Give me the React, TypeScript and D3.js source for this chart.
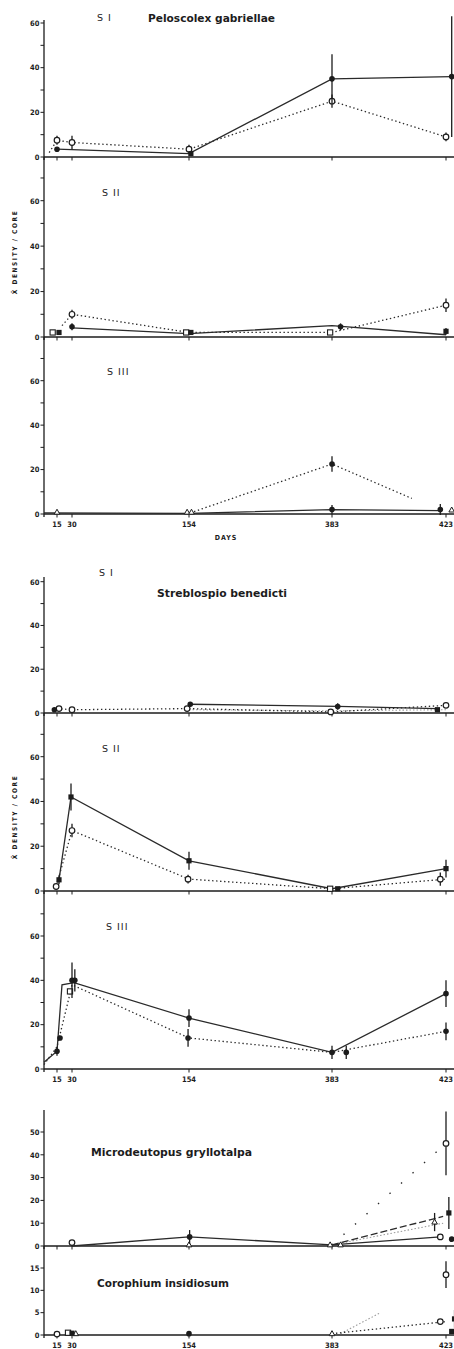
import React from 'react';
import * as d3 from 'd3';

type Pt = [number, number];
type Mk = [number, number, number];

// ---- axis data ----
const dayBreaks = [0, 15, 30, 154, 383, 423];
const dayTicks = [15, 30, 154, 383, 423];
const dayTickLabels = ['15', '30', '154', '383', '423'];

// ---- Peloscolex gabriellae, S I ----
const pgS1Solid: Pt[] = [[15, 3.5], [154, 1.5], [383, 35], [425, 36]];
const pgS1Dotted: Pt[] = [[6, 2], [15, 7.5], [30, 6.5], [154, 3.5], [383, 25], [423, 9]];
const pgS1FilledC: Mk[] = [[15, 3.5, 0], [383, 35, 11], [425, 36, 27]];
const pgS1FilledS: Mk[] = [[157, 1.5, 0]];
const pgS1OpenC: Mk[] = [[15, 7.5, 2], [30, 6.5, 3], [154, 3.5, 2], [383, 25, 3], [423, 9, 2]];

// ---- Peloscolex gabriellae, S II ----
const pgS2Solid: Pt[] = [[30, 4], [154, 1.5], [383, 5], [423, 1]];
const pgS2Dotted: Pt[] = [[20, 5], [30, 10], [154, 2], [383, 2], [423, 14]];
const pgS2FilledC: Mk[] = [[30, 4.5, 1.5], [386, 4.5, 1.5]];
const pgS2FilledS: Mk[] = [[17, 2, 0], [157, 2, 0], [423, 2.5, 1.5]];
const pgS2OpenS: Mk[] = [[10, 2, 0], [151, 2, 0], [380, 2, 0]];
const pgS2OpenC: Mk[] = [[30, 10, 2], [423, 14, 3]];

// ---- Peloscolex gabriellae, S III ----
const pgS3Dotted: Pt[] = [[156, 0.5], [383, 22.5], [411, 7]];
const pgS3Solid: Pt[] = [[0, 0.5], [154, 0.3], [383, 2], [421, 1.5]];
const pgS3FilledC: Mk[] = [[383, 22.5, 3.5], [383, 2, 2], [421, 2, 2.5]];
const pgS3Tri: Mk[] = [[15, 0.8, 0], [152, 0.8, 0], [158, 0.8, 0], [425, 1.8, 0]];

// ---- Streblospio benedicti, S I ----
const sbS1Solid: Pt[] = [[156, 4], [385, 3], [420, 2]];
const sbS1Dashed: Pt[] = [[154, 1.5], [383, 1], [423, 1.5]];
const sbS1Dotted: Pt[] = [[15, 2], [30, 1.5], [154, 2], [383, 0.5], [423, 3.5]];
const sbS1FilledC: Mk[] = [[12, 1.5, 0], [156, 4, 1], [385, 3, 1.5]];
const sbS1OpenC: Mk[] = [[17, 2, 0], [30, 1.5, 0], [152, 2, 0], [381, 0.5, 1], [423, 3.5, 0]];
const sbS1FilledS: Mk[] = [[420, 1.5, 0]];

// ---- Streblospio benedicti, S II ----
const sbS2Solid: Pt[] = [[17, 5], [29, 42], [154, 13.5], [383, 1], [423, 10]];
const sbS2Dotted: Pt[] = [[14, 2], [30, 27], [154, 5.3], [383, 1], [423, 5.3]];
const sbS2FilledS: Mk[] = [[17, 5, 2], [29, 42, 6], [154, 13.5, 4], [385, 1, 0], [423, 10, 4]];
const sbS2OpenC: Mk[] = [[14, 2, 1], [30, 27, 3], [153, 5.3, 2], [421, 5.3, 3]];
const sbS2OpenS: Mk[] = [[380, 1, 0]];

// ---- Streblospio benedicti, S III ----
const sbS3Solid: Pt[] = [[0, 3], [15, 8], [20, 38], [32, 39], [154, 23], [383, 7.5], [423, 34]];
const sbS3Dotted: Pt[] = [[0, 2], [15, 10], [28, 34], [30, 38], [154, 14], [383, 7.5], [423, 17]];
const sbS3FilledC: Mk[] = [[15, 8, 2], [18, 14, 0], [30, 40, 8], [33, 40, 5], [154, 23, 4], [153, 14, 4], [383, 7.5, 3], [388, 7.5, 3], [423, 34, 6], [423, 17, 4]];
const sbS3OpenS: Mk[] = [[28, 35, 0]];

// ---- Microdeutopus gryllotalpa ----
const mgSolid: Pt[] = [[30, 0], [154, 4], [383, 0.5], [421, 4]];
const mgDashed: Pt[] = [[383, 0.5], [422, 13]];
const mgDotted: Pt[] = [[383, 0.5], [423, 45]];
const mgGrayDotted: Pt[] = [[383, 0.5], [422, 10]];
const mgOpenC: Mk[] = [[30, 1.5, 0], [423, 45, 14], [421, 4, 0]];
const mgFilledS: Mk[] = [[424, 14.5, 7]];
const mgFilledC: Mk[] = [[155, 4, 3], [425, 3, 1]];
const mgTri: Mk[] = [[154, 0.5, 0], [380, 0.5, 0], [386, 0.5, 0], [419, 10.5, 4]];

// ---- Corophium insidiosum ----
const ciDotted: Pt[] = [[383, 0.3], [423, 3]];
const ciGrayDotted: Pt[] = [[386, 0.3], [400, 5]];
const ciOpenC: Mk[] = [[15, 0.2, 0], [423, 13.5, 3], [421, 3, 0]];
const ciFilledS: Mk[] = [[426, 3.6, 2], [425, 0.8, 0], [30, 0.4, 0]];
const ciOpenS: Mk[] = [[26, 0.5, 0]];
const ciFilledC: Mk[] = [[154, 0.3, 0]];
const ciTri: Mk[] = [[34, 0.3, 0], [383, 0.3, 0]];

const INK = '#1c1c1c';
const NUMFONT = '"DejaVu Sans Condensed", "DejaVu Sans", sans-serif';

type LineKind = 'solid' | 'dotted' | 'dashed' | 'gray' | 'sparse';
type Shape = 'fc' | 'oc' | 'fs' | 'os' | 'tri';

interface Panel {
  y0: number; yRef: number; refVal: number; axisTop: number;
  ticks: number[]; labels: number[];
  tag?: string; tagX?: number; tagY?: number;
  title?: string; titleX?: number; titleY?: number; titleW?: number;
  xLabels?: boolean;
  lines: { d: Pt[]; k: LineKind }[];
  marks: { d: Mk[]; s: Shape }[];
}

const t10 = (max: number) => d3.range(0, max + 1, 10);

const panels: Panel[] = [
  { y0: 157, yRef: 23, refVal: 60, axisTop: 20, ticks: t10(60), labels: [0, 20, 40, 60],
    tag: 'S I', tagX: 97, tagY: 21, title: 'Peloscolex gabriellae', titleX: 148, titleY: 22, titleW: 127,
    lines: [{ d: pgS1Solid, k: 'solid' }, { d: pgS1Dotted, k: 'dotted' }],
    marks: [{ d: pgS1OpenC, s: 'oc' }, { d: pgS1FilledS, s: 'fs' }, { d: pgS1FilledC, s: 'fc' }] },
  { y0: 337, yRef: 200.7, refVal: 60, axisTop: 157, ticks: t10(70), labels: [0, 20, 40, 60],
    tag: 'S II', tagX: 102, tagY: 196,
    lines: [{ d: pgS2Solid, k: 'solid' }, { d: pgS2Dotted, k: 'dotted' }],
    marks: [{ d: pgS2OpenS, s: 'os' }, { d: pgS2FilledS, s: 'fs' }, { d: pgS2OpenC, s: 'oc' }, { d: pgS2FilledC, s: 'fc' }] },
  { y0: 514, yRef: 380.7, refVal: 60, axisTop: 337, ticks: t10(70), labels: [0, 20, 40, 60],
    tag: 'S III', tagX: 107, tagY: 375, xLabels: true,
    lines: [{ d: pgS3Solid, k: 'solid' }, { d: pgS3Dotted, k: 'dotted' }],
    marks: [{ d: pgS3Tri, s: 'tri' }, { d: pgS3FilledC, s: 'fc' }] },
  { y0: 713, yRef: 581.7, refVal: 60, axisTop: 577, ticks: t10(60), labels: [0, 20, 40, 60],
    tag: 'S I', tagX: 99, tagY: 576, title: 'Streblospio benedicti', titleX: 157, titleY: 597, titleW: 130,
    lines: [{ d: sbS1Dashed, k: 'gray' }, { d: sbS1Solid, k: 'solid' }, { d: sbS1Dotted, k: 'dotted' }],
    marks: [{ d: sbS1OpenC, s: 'oc' }, { d: sbS1FilledS, s: 'fs' }, { d: sbS1FilledC, s: 'fc' }] },
  { y0: 891, yRef: 756.7, refVal: 60, axisTop: 713, ticks: t10(70), labels: [0, 20, 40, 60],
    tag: 'S II', tagX: 102, tagY: 752,
    lines: [{ d: sbS2Solid, k: 'solid' }, { d: sbS2Dotted, k: 'dotted' }],
    marks: [{ d: sbS2OpenS, s: 'os' }, { d: sbS2OpenC, s: 'oc' }, { d: sbS2FilledS, s: 'fs' }] },
  { y0: 1069, yRef: 936, refVal: 60, axisTop: 891, ticks: t10(70), labels: [0, 20, 40, 60],
    tag: 'S III', tagX: 106, tagY: 930, xLabels: true,
    lines: [{ d: sbS3Solid, k: 'solid' }, { d: sbS3Dotted, k: 'dotted' }],
    marks: [{ d: sbS3OpenS, s: 'os' }, { d: sbS3FilledC, s: 'fc' }] },
  { y0: 1246, yRef: 1132, refVal: 50, axisTop: 1110, ticks: t10(50), labels: [0, 10, 20, 30, 40, 50],
    title: 'Microdeutopus gryllotalpa', titleX: 91, titleY: 1156, titleW: 161,
    lines: [{ d: mgGrayDotted, k: 'gray' }, { d: mgSolid, k: 'solid' }, { d: mgDashed, k: 'dashed' }, { d: mgDotted, k: 'sparse' }],
    marks: [{ d: mgTri, s: 'tri' }, { d: mgOpenC, s: 'oc' }, { d: mgFilledS, s: 'fs' }, { d: mgFilledC, s: 'fc' }] },
  { y0: 1335, yRef: 1268, refVal: 15, axisTop: 1246, ticks: [0, 5, 10, 15], labels: [0, 5, 10, 15],
    title: 'Corophium insidiosum', titleX: 97, titleY: 1287, titleW: 132, xLabels: true,
    lines: [{ d: ciGrayDotted, k: 'gray' }, { d: ciDotted, k: 'dotted' }],
    marks: [{ d: ciTri, s: 'tri' }, { d: ciOpenS, s: 'os' }, { d: ciOpenC, s: 'oc' }, { d: ciFilledS, s: 'fs' }, { d: ciFilledC, s: 'fc' }] },
];

const x = d3.scaleLinear().domain(dayBreaks).range([44, 57, 72, 189, 332, 446]);

function lineStyle(k: LineKind) {
  if (k === 'dotted') return { stroke: '#2a2a2a', strokeWidth: 1.3, strokeDasharray: '1.4 2.6' };
  if (k === 'sparse') return { stroke: '#2a2a2a', strokeWidth: 1.4, strokeDasharray: '1.4 14' };
  if (k === 'dashed') return { stroke: '#2a2a2a', strokeWidth: 1.3, strokeDasharray: '7 3' };
  if (k === 'gray') return { stroke: '#9a9a9a', strokeWidth: 1.1, strokeDasharray: '1.5 2' };
  return { stroke: '#2a2a2a', strokeWidth: 1.3 };
}

function Marker({ s, cx, cy }: { s: Shape; cx: number; cy: number }) {
  const r = 2.8;
  if (s === 'fc') return <circle cx={cx} cy={cy} r={r} fill={INK} />;
  if (s === 'oc') return <circle cx={cx} cy={cy} r={r} fill="#fff" stroke={INK} strokeWidth={1.2} />;
  if (s === 'fs') return <rect x={cx - 2.6} y={cy - 2.6} width={5.2} height={5.2} fill={INK} />;
  if (s === 'os') return <rect x={cx - 2.6} y={cy - 2.6} width={5.2} height={5.2} fill="#fff" stroke={INK} strokeWidth={1.1} />;
  return <path d={`M${cx},${cy - 3}L${cx + 2.8},${cy + 2}L${cx - 2.8},${cy + 2}Z`} fill="#fff" stroke={INK} strokeWidth={1} />;
}

function PanelG({ p }: { p: Panel }) {
  const y = d3.scaleLinear().domain([0, p.refVal]).range([p.y0, p.yRef]);
  const gen = d3.line<Pt>().x(d => x(d[0])).y(d => y(d[1]));
  return (
    <g>
      <line x1={44} x2={44} y1={p.axisTop} y2={p.y0 + 3} stroke={INK} strokeWidth={1.3} />
      {p.ticks.map(t => (
        <line key={'t' + t} x1={40.5} x2={44} y1={y(t)} y2={y(t)} stroke={INK} strokeWidth={1} />
      ))}
      {p.labels.map(t => (
        <text key={'l' + t} x={39.5} y={y(t) + 2.8} textAnchor="end" fontFamily={NUMFONT}
          fontWeight="bold" fontSize={7.5} fill={INK}>{t}</text>
      ))}
      <line x1={44} x2={454} y1={p.y0} y2={p.y0} stroke={INK} strokeWidth={1.4} />
      {dayTicks.map(d => (
        <line key={'xt' + d} x1={x(d)} x2={x(d)} y1={p.y0} y2={p.y0 + 3.5} stroke={INK} strokeWidth={1} />
      ))}
      {p.xLabels && dayTicks.map((d, i) => (
        <text key={'xl' + d} x={x(d)} y={p.y0 + 13} textAnchor="middle" fontFamily={NUMFONT}
          fontWeight="bold" fontSize={7.5} fill={INK}>{dayTickLabels[i]}</text>
      ))}
      {p.lines.map((l, i) => (
        <path key={'ln' + i} d={gen(l.d) || ''} fill="none" {...lineStyle(l.k)} />
      ))}
      {p.marks.map((m, i) => (
        <g key={'mk' + i}>
          {m.d.filter(v => v[2] > 0).map((v, j) => (
            <line key={'e' + j} x1={x(v[0])} x2={x(v[0])} y1={y(v[1] - v[2])} y2={y(v[1] + v[2])}
              stroke={INK} strokeWidth={1.3} />
          ))}
          {m.d.map((v, j) => <Marker key={'m' + j} s={m.s} cx={x(v[0])} cy={y(v[1])} />)}
        </g>
      ))}
      {p.tag && (
        <text x={p.tagX} y={p.tagY} fontFamily='"DejaVu Sans", sans-serif' fontSize={9.5} fill={INK}
          letterSpacing={1}>{p.tag}</text>
      )}
      {p.title && (
        <text x={p.titleX} y={p.titleY} fontFamily={NUMFONT} fontWeight="bold" fontSize={10.5} fill={INK}
          textLength={p.titleW} lengthAdjust="spacingAndGlyphs">{p.title}</text>
      )}
    </g>
  );
}

export default function App() {
  return (
    <svg width={454} height={1349} viewBox="0 0 454 1349"
      style={{ position: 'absolute', left: 0, top: 0, background: '#fff' }}>
      <rect width={454} height={1349} fill="#fff" />
      {panels.map((p, i) => <PanelG key={i} p={p} />)}
      <text x={226} y={540} textAnchor="middle" fontFamily={NUMFONT} fontWeight="bold" fontSize={7}
        letterSpacing={1} fill={INK}>DAYS</text>
      {[252, 817].map(cy => (
        <text key={cy} transform={`translate(17,${cy}) rotate(-90)`} textAnchor="middle" fontFamily={NUMFONT}
          fontWeight="bold" fontSize={6.5} letterSpacing={1.6} fill={INK}>{'X\u0304 DENSITY / CORE'}</text>
      ))}
    </svg>
  );
}
